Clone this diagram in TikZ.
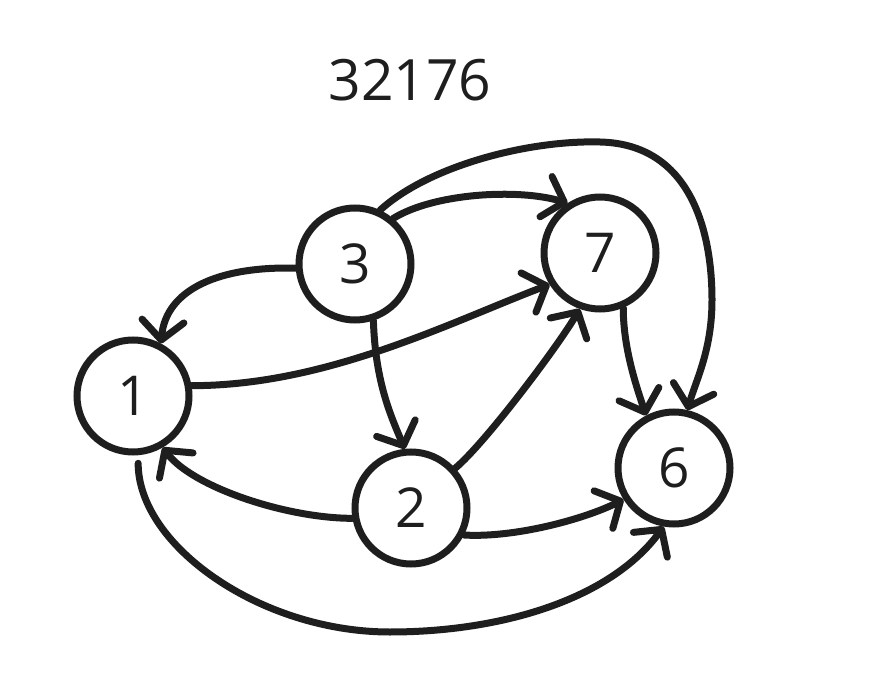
\documentclass[tikz,border=0pt]{standalone}
\usepackage{fontspec}
\setmainfont{Open Sans}
\usetikzlibrary{arrows.meta}
\definecolor{ink}{HTML}{1E1E1E}
\begin{document}
\begin{tikzpicture}[x=1pt,y=-1pt,
  vertex/.style={circle,draw=ink,line width=7pt,minimum size=112pt,inner sep=0pt,
    font=\fontsize{55}{55}\selectfont,text=ink},
  link/.style={draw=ink,line width=7pt,line cap=round,line join=round,
    -{Straight Barb[length=19pt,width=42pt,round]}},
  label/.style={font=\fontsize{57}{57}\selectfont,text=ink}]
\useasboundingbox (0,0) rectangle (878,692);

% caption
\node[label] (title) at (410,80) {32176};

% vertices
\node[vertex] (n3) at (355,264) {3};
\node[vertex] (n7) at (600,253) {7};
\node[vertex] (n1) at (133,396) {1};
\node[vertex] (n2) at (411,508) {2};
\node[vertex] (n6) at (674,468) {6};

% edges
\draw[link] (n3.184) .. controls +(-75,-2) and +(5,-55) .. (n1.62);
\draw[link] (n3.50) .. controls +(40,-25) and +(-50,-15) .. (n7.123);
\draw[link] (n3.65) .. controls (430,165) and (530,140) .. (600,142)
  .. controls (690,144) and (712,230) .. (712,300)
  .. controls (712,350) and (696,380) .. (n6.77);
\draw[link] (n1.10) .. controls +(135,0) and +(-100,38) .. (n7.212);
\draw[link] (n3.288) .. controls +(2,60) and +(-15,-35) .. (n2.96);
\draw[link] (n2.42) .. controls +(30,-25) and +(-20,35) .. (n7.250);
\draw[link] (n7.293) .. controls +(0,40) and +(-10,-30) .. (n6.118);
\draw[link] (n2.190) .. controls +(-65,0) and +(30,40) .. (n1.300);
\draw[link] (n2.333) .. controls +(50,3) and +(-40,20) .. (n6.212);
\draw[link,shorten <=8pt] (n1.275) .. controls (138,545) and (260,632) .. (390,632)
  .. controls (500,632) and (610,600) .. (n6.260);
\end{tikzpicture}
\end{document}
